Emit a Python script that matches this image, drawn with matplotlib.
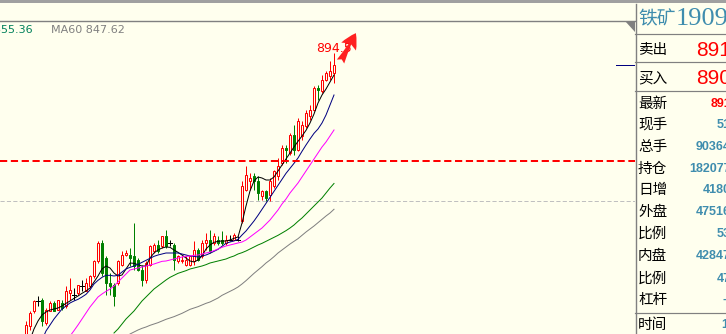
import numpy as np
import matplotlib
matplotlib.use('Agg')
import matplotlib.pyplot as plt
from matplotlib.patches import Rectangle, Polygon, FancyArrowPatch
from matplotlib.lines import Line2D

plt.rcParams['font.family'] = ['DejaVu Sans', 'Noto Sans CJK SC']
plt.rcParams['lines.scale_dashes'] = False

W, H = 726, 334
bg = '#FFFFEE'
nan = np.nan

# daily bars (price)
opens = [808, 812.5, 817, 820, 820.5, 813.5, 817, 819.5, 817.5, 819.5,
         818.5, 822.5, 822, 822.5, 824.5, 823, 824.5, 827.5, 832, 837.5,
         833, 825.5, 825, 825.5, 831, 834, 834, 833.5, 832.5, 829.5,
         826.5, 831, 835, 837, 836.5, 839.5, 837.5, 837, 832, 832,
         831, 831, 832, 835.5, 833.5, 837.5, 838.5, 837.5, 838.5, 838.5,
         837.5, 838.5, 838.5, 838.5, 844, 853.5, 856, 857.5, 856, 851.5,
         853, 852, 854.5, 857.5, 861.5, 866, 864.5, 870, 865.5, 869.5,
         872.5, 875.5, 877.5, 884, 883, 886.5, 887.5, 888.5]
highs = [814, 817, 820.5, 821.5, 821, 818, 820, 820, 820.5, 820.5,
         824.5, 827, 824, 825, 826.5, 827, 828, 832.5, 838, 838.5,
         833.5, 828.5, 825.5, 832.5, 835, 835.5, 836, 843.5, 833, 831,
         832, 837, 837.5, 838.5, 839.5, 841.5, 838.5, 837.5, 834, 833.5,
         833.5, 833.5, 838, 836, 838.5, 840.5, 841.5, 840.5, 839.5, 841,
         840, 840, 840.5, 839.5, 856, 860.5, 858.5, 858.5, 857.5, 853.5,
         853.5, 857, 859.5, 863, 867, 867, 870.5, 873, 875, 874,
         877.5, 879, 884.5, 885, 888, 889, 892, 894.5]
lows = [806.5, 811.5, 816.5, 818.5, 812.5, 813, 817, 817, 817.5, 817.5,
        818, 820.5, 820.5, 822, 823, 823, 824, 827, 831.5, 827.5,
        822, 822, 818.5, 825, 830.5, 833.5, 830.5, 829.5, 829, 824.5,
        825.5, 830.5, 834.5, 834.5, 836, 836, 836.5, 829.5, 831.5, 831.5,
        830.5, 830.5, 831, 832, 833, 835.5, 834.5, 837, 837, 837,
        837, 838, 838.5, 838, 843.5, 853, 853.5, 853.5, 850.5, 850.5,
        850, 850, 854, 856.5, 861, 861.5, 864, 864, 865, 868.5,
        872, 874.5, 877, 880.5, 882.5, 886, 886.5, 885.5]
closes = [813, 816.5, 820, 820, 814, 817.5, 819.5, 817, 820.5, 818,
          823, 823.5, 822, 825, 824.5, 825.5, 827.5, 832, 837.5, 828.5,
          825.5, 824.5, 821.5, 832, 834, 834.5, 833, 830.5, 829.5, 826.5,
          831.5, 836.5, 837, 835, 839.5, 836.5, 837.5, 832.5, 833.5, 832.5,
          832.5, 833.5, 835.5, 832.5, 837.5, 838.5, 835, 839.5, 837.5, 837.5,
          838.5, 838.5, 840, 838.5, 854.5, 858, 857, 856, 852.5, 853,
          851, 856, 859, 860.5, 866, 865.5, 870, 865.5, 874, 873,
          876.5, 877.5, 884, 883.5, 886.5, 888.5, 889, 891]

# moving averages as shown on the chart
ma5 = [nan] + [808.4, 811.7, 814.1, 815.9, 816.8, 817.4, 817.7, 818.0, 818.6, 819.4,
               820.1, 820.9, 821.6, 822.4, 823.1, 824.0, 825.8, 827.6, 829.7, 830.6,
               830.0, 828.5, 827.6, 827.9, 829.7, 831.5, 831.4, 831.0, 830.6, 830.6,
               833.0, 834.5, 835.4, 836.0, 836.3, 836.2, 835.4, 834.7, 833.9, 833.0,
               832.1, 831.8, 832.4, 833.6, 835.7, 836.9, 837.7, 838.0, 838.1, 838.1,
               838.4, 838.9, 839.3, 843.5, 848.6, 853.1, 856.1, 857.3, 857.0, 856.4,
               856.4, 857.3, 859.1, 860.9, 862.7, 864.5, 866.3, 868.0, 869.6, 871.3,
               873.5, 876.2, 879.5, 881.9, 883.7, 885.8, 887.9]
ma10 = [nan] * 4 + [808.4, 811.1, 812.9, 814.7, 816.2, 817.7, 818.6,
                    819.5, 820.1, 820.6, 821.3, 822.1, 823.4, 825.2, 826.3, 827.2, 827.8,
                    827.8, 827.6, 827.8, 828.8, 829.7, 830.2, 830.6, 831.1, 831.7, 832.3,
                    832.9, 833.5, 833.9, 834.2, 834.5, 834.5, 834.5, 834.5, 834.2, 833.9,
                    833.6, 833.5, 833.3, 833.6, 833.9, 834.4, 835.0, 835.6, 836.5, 837.4,
                    837.8, 838.1, 838.6, 839.9, 841.1, 842.6, 844.1, 845.8, 847.6, 849.4,
                    851.2, 853.0, 854.8, 856.6, 858.4, 859.9, 861.4, 863.0, 865.0, 866.9,
                    868.7, 870.4, 871.7, 873.5, 875.9, 878.9, 881.9]
ma20 = [nan] * 11 + [809.6, 811.2, 812.9, 814.7, 816.5, 818.3, 819.8, 821.3, 822.2, 823.0,
                     823.7, 824.6, 825.8, 827.0, 828.2, 829.4, 829.7, 830.0, 830.3, 830.6,
                     830.9, 831.2, 831.6, 832.0, 832.1, 832.4, 832.7, 833.0, 833.3, 833.5,
                     833.6, 833.8, 833.9, 834.2, 834.5, 834.8, 835.2, 835.7, 836.2, 836.6,
                     836.9, 837.2, 837.5, 837.8, 838.4, 839.3, 840.2, 841.1, 842.0, 843.2,
                     844.4, 845.9, 847.4, 849.2, 850.7, 852.5, 854.0, 855.5, 857.3, 859.1,
                     860.9, 862.7, 864.5, 866.3, 867.8, 869.6, 871.4]
ma40 = [nan] * 22 + [810.5, 811.7, 813.2, 814.7, 815.9, 817.1, 818.6, 820.1, 821.3,
                     822.5, 823.7, 824.6, 825.5, 826.4, 827.2, 827.8, 828.4, 828.8, 829.2,
                     829.7, 830.0, 830.3, 830.6, 831.0, 831.5, 831.8, 832.1, 832.4, 832.7,
                     833.2, 833.6, 834.2, 834.6, 835.1, 835.7, 836.3, 836.9, 837.4, 838.0,
                     838.6, 839.2, 839.8, 840.5, 841.2, 842.0, 842.9, 844.0, 845.0, 846.2,
                     847.4, 848.6, 849.8, 851.0, 852.5, 854.0, 855.36]
ma60 = [nan] * 26 + [810.2, 810.8, 811.4, 811.9, 812.3,
                     812.8, 813.2, 813.6, 814.1, 814.6, 815.0, 815.4, 815.9, 816.4, 817.0,
                     817.6, 818.0, 818.4, 818.9, 819.4, 819.8, 820.4, 821.0, 821.8, 822.4,
                     823.0, 823.6, 824.3, 825.2, 826.2, 827.3, 828.4, 829.4, 830.4, 831.5,
                     832.4, 833.4, 834.5, 835.4, 836.3, 837.2, 838.0, 838.8, 839.8, 840.8,
                     841.7, 842.6, 843.6, 844.6, 845.6, 846.5, 847.62]
ma_colors = ['#000000', '#000080', '#FF00FF', '#008000', '#808080']

red_level = 862
gray_level = 850
last_price = 891
peak_label = '894.5'

# quote panel
panel_labels = ['卖出', '买入', '最新', '现手', '总手', '持仓', '日增', '外盘', '比例', '内盘', '比例', '杠杆', '时间']
panel_values = ['891', '890', '891', '51', '90364', '182077', '4180', '47516', '53', '42847', '47', '--', '1']
panel_rows = [50, 78, 104, 125, 147, 169, 190, 212, 234, 256, 279, 300, 325]


def fx(x):
    return x / W


def fy(y):
    return 1 - y / H


px = 72 / 100  # one pixel in points

fig = plt.figure(figsize=(W / 100, H / 100), dpi=100)
fig.patch.set_facecolor(bg)

ax = fig.add_axes([0, 0, 635 / W, 313 / H])
ax.set_facecolor(bg)
ax.set_xlim(-6.5, -6.5 + 635 / 4)
ax.set_ylim(810.2, 904.1)
ax.set_xticks([])
ax.set_yticks([])
for s in ['left', 'right', 'bottom']:
    ax.spines[s].set_visible(False)
ax.spines['top'].set_color('#808080')
ax.spines['top'].set_linewidth(1.4 * px)

ax.axhline(gray_level, color='#C0C0C0', lw=px, dashes=(3, 1.6), zorder=1)
ax.axhline(red_level, color='#FF0000', lw=2 * px, dashes=(5.2, 2.6), zorder=6)

# candles
for i in range(len(opens)):
    o, h, l, c = opens[i], highs[i], lows[i], closes[i]
    if c > o:
        col = '#FF0000'
    elif c < o:
        col = '#008000'
    else:
        col = '#000000'
    ax.plot([i, i], [l, h], color=col, lw=px, zorder=2, solid_capstyle='butt')
    if c == o:
        ax.plot([i - 0.4, i + 0.4], [o, o], color=col, lw=px, zorder=3)
    else:
        fc = bg if c > o else col
        ax.add_patch(Rectangle((i - 0.3, min(o, c)), 0.6, abs(c - o), facecolor=fc,
                               edgecolor=col, lw=px, zorder=3))

xs = np.arange(len(opens))
for ma, col in zip([ma5, ma10, ma20, ma40, ma60], ma_colors):
    ax.plot(xs, ma, color=col, lw=px, zorder=4)

# last price marker at right edge
ax.plot([147.5, 152.25], [last_price, last_price], color='#000080', lw=px, zorder=4)

ax.text(len(opens) - 1, max(highs) + 0.3, peak_label, color='#FF0000', fontsize=9,
        ha='center', va='baseline', zorder=5)
arrow = FancyArrowPatch((78.3, 891.2), (82.8, 901.2),
                        arrowstyle='fancy,head_length=0.55,head_width=0.6,tail_width=0.3',
                        mutation_scale=20, color='#FF2020', lw=0, zorder=7)
ax.add_patch(arrow)

# legend text above the chart
fig.text(fx(33), fy(30), 'MA40 855.36', color='#00805A', fontsize=8, ha='right', va='center')
fig.text(fx(51), fy(30), 'MA60 847.62', color='#808080', fontsize=8, ha='left', va='center')

# frame pieces
fig.add_artist(Rectangle((0, fy(3)), 1, 3 / H, transform=fig.transFigure,
                         facecolor='#A0A0A0', edgecolor='none'))
fig.add_artist(Polygon([(fx(625), fy(21)), (fx(635), fy(21)), (fx(635), fy(32))],
                       closed=True, transform=fig.transFigure, facecolor='#808080',
                       edgecolor='none'))
fig.add_artist(Line2D([fx(635.5), fx(635.5)], [fy(4), 0], transform=fig.transFigure,
                      color='#808080', lw=1.4 * px))
for yy in [34, 62, 91, 313]:
    fig.add_artist(Line2D([fx(635), 1], [fy(yy), fy(yy)], transform=fig.transFigure,
                          color='#808080', lw=1.2 * px))

# quote panel text
teal = '#3F8DAE'
fig.text(fx(638), fy(19), '铁矿', family=['Noto Sans CJK SC'], fontsize=13.5,
         color=teal, ha='left', va='center')
fig.text(fx(676), fy(19), '1909', family=['Liberation Serif'], fontsize=19,
         color=teal, ha='left', va='center')

for k, (lab, val, yy) in enumerate(zip(panel_labels, panel_values, panel_rows)):
    fig.text(fx(638), fy(yy), lab, family=['Noto Sans CJK SC'], fontsize=10.5,
             color='#000000', ha='left', va='center')
    if k < 2:
        fig.text(fx(731), fy(yy), val, family=['Liberation Sans'], fontsize=15,
                 color='#FF0000', ha='right', va='center')
    elif k == 2:
        fig.text(fx(731), fy(yy), val, family=['Liberation Sans'], fontsize=9,
                 weight='bold', color='#FF0000', ha='right', va='center')
    elif lab == '时间':
        fig.text(fx(721), fy(yy), val, family=['Liberation Sans'], fontsize=9,
                 weight='bold', color=teal, ha='left', va='center')
    else:
        fig.text(fx(731), fy(yy), val, family=['Liberation Sans'], fontsize=9,
                 weight='bold', color=teal, ha='right', va='center')

fig.savefig('out.png', dpi=100, facecolor=bg)
